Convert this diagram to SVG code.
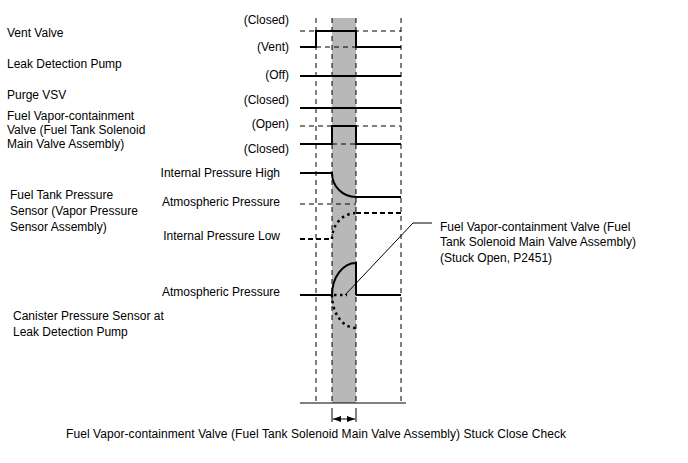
<svg xmlns="http://www.w3.org/2000/svg" width="688" height="463" viewBox="0 0 688 463">
<style>
text{font-family:"Liberation Sans",Arial,sans-serif;font-size:12px;fill:#000}
.r{text-anchor:end}
.grid{stroke:#000;stroke-width:1;stroke-dasharray:5,4;fill:none}
.sig{stroke:#000;stroke-width:2;fill:none}
.lvl{stroke:#000;stroke-width:1;stroke-dasharray:5,4;fill:none}
.dash2{stroke:#000;stroke-width:2;stroke-dasharray:5,3;fill:none}
.dot{stroke:#000;stroke-width:2.5;stroke-dasharray:2.5,3.5;fill:none}
.thin{stroke:#000;stroke-width:1;fill:none}
</style>
<defs>
<marker id="ah" markerWidth="8" markerHeight="6" refX="8" refY="3" orient="auto-start-reverse" markerUnits="userSpaceOnUse">
<path d="M0,0 L8,3 L0,6 Z" fill="#000"/>
</marker>
</defs>
<rect id="band" x="332" y="18" width="24" height="385" fill="#b8b8b8"/>
<g id="gridlines">
<path class="grid" d="M316,18 V403 M332,18 V403 M356,18 V403 M401,18 V403"/>
<path class="thin" stroke-width="1.5" d="M300,403 H406"/>
</g>
<g id="vent-valve">
<text x="7" y="37">Vent Valve</text>
<text class="r" x="289" y="24">(Closed)</text>
<text class="r" x="289" y="51">(Vent)</text>
<path class="lvl" d="M300,31 H401 M316,47 H356"/>
<path class="sig" d="M300,47 H316 V31 H356 V47 H401"/>
</g>
<g id="leak-pump">
<text x="7" y="68">Leak Detection Pump</text>
<text class="r" x="289" y="79">(Off)</text>
<path class="sig" d="M300,76 H401"/>
</g>
<g id="purge-vsv">
<text x="7" y="99">Purge VSV</text>
<text class="r" x="289" y="104">(Closed)</text>
<path class="sig" d="M300,108 H401"/>
</g>
<g id="fvv">
<text x="7" y="120">Fuel Vapor-containment</text>
<text x="7" y="134">Valve (Fuel Tank Solenoid</text>
<text x="7" y="148">Main Valve Assembly)</text>
<text class="r" x="289" y="128">(Open)</text>
<text class="r" x="289" y="153">(Closed)</text>
<path class="lvl" d="M300,126 H401 M332,144 H356"/>
<path class="sig" d="M300,144 H332 V126 H356 V144 H401"/>
</g>
<g id="fuel-tank-sensor">
<text x="10" y="199">Fuel Tank Pressure</text>
<text x="10" y="215">Sensor (Vapor Pressure</text>
<text x="10" y="231">Sensor Assembly)</text>
<text class="r" x="280" y="177">Internal Pressure High</text>
<text class="r" x="280" y="206">Atmospheric Pressure</text>
<text class="r" x="280" y="240">Internal Pressure Low</text>
<path class="sig" d="M300,173 H332 A24,24 0 0 0 356,197 H401"/>
<path class="lvl" d="M300,204 H356"/>
<path class="dash2" d="M300,239 H332 M356,213 H401"/>
<path class="dot" d="M332,239 A24,26 0 0 1 356,213"/>
</g>
<g id="canister-sensor">
<text x="13" y="320">Canister Pressure Sensor at</text>
<text x="13" y="336">Leak Detection Pump</text>
<text class="r" x="280" y="296">Atmospheric Pressure</text>
<path class="sig" d="M300,295 H332 M356,295 H401"/>
<path class="sig" d="M332,295 A24,32 0 0 1 356,263 V295"/>
<path class="dot" d="M332,295 A24,33 0 0 0 356,328 M334,295 H347"/>
</g>
<g id="connectors">
<path class="thin" d="M345,295 L413,223 H432"/>
<path class="thin" d="M332,408 V422 M356,408 V422"/>
<path class="thin" d="M333,419 H355" marker-start="url(#ah)" marker-end="url(#ah)"/>
</g>
<g id="callout">
<text x="440" y="231">Fuel Vapor-containment Valve (Fuel</text>
<text x="440" y="246">Tank Solenoid Main Valve Assembly)</text>
<text x="440" y="262">(Stuck Open, P2451)</text>
</g>
<g id="caption">
<text x="66" y="438" textLength="500" lengthAdjust="spacing">Fuel Vapor-containment Valve (Fuel Tank Solenoid Main Valve Assembly) Stuck Close Check</text>
</g>
</svg>
